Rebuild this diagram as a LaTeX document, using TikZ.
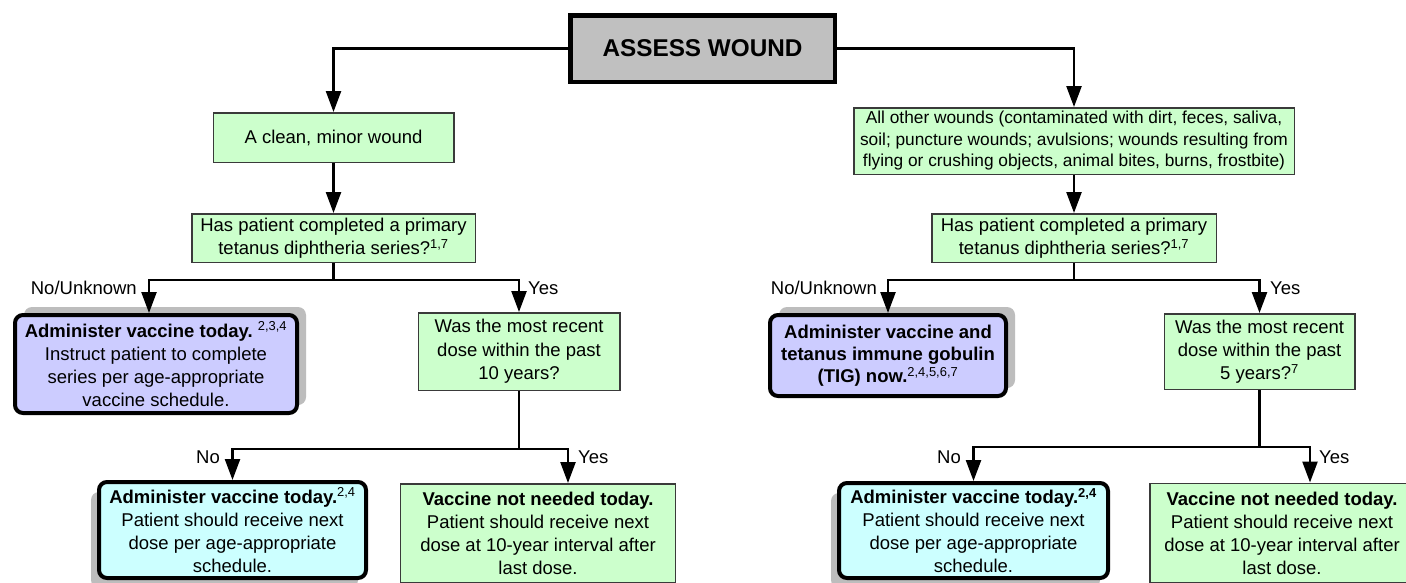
\documentclass[tikz,border=0pt]{standalone}
\usepackage{fontspec}
\setmainfont{Liberation Sans}
\usetikzlibrary{arrows.meta,shadows}
\definecolor{boxgreen}{HTML}{CCFFCC}
\definecolor{boxpurple}{HTML}{CCCCFF}
\definecolor{boxcyan}{HTML}{CCFFFF}
\definecolor{boxgrey}{HTML}{C0C0C0}
\definecolor{edgegrey}{HTML}{3A3A3A}
\definecolor{shadowgrey}{HTML}{BDBDBD}
\begin{document}
\begin{tikzpicture}[x=1pt,y=-1pt,
  every node/.style={font=\fontsize{18.5}{23}\selectfont, inner sep=0pt, align=center},
  assessbox/.style={draw=black, line width=4.5pt, fill=boxgrey},
  greenbox/.style={draw=edgegrey, line width=1.5pt, fill=boxgreen},
  purplebox/.style={draw=black, line width=4pt, rounded corners=8pt, fill=boxpurple,
    general shadow={fill=shadowgrey, shadow xshift=9pt, shadow yshift=8pt}},
  cyanbox/.style={draw=black, line width=4pt, rounded corners=8pt, fill=boxcyan,
    general shadow={fill=shadowgrey, shadow xshift=-8pt, shadow yshift=-10pt}},
  lbl/.style={font=\fontsize{18.5}{22}\selectfont},
  wire/.style={line width=2.4pt},
  conn/.style={line width=2.4pt, -{Triangle[length=21pt,width=15pt]}}
]
\useasboundingbox (0,0) rectangle (1406,582);
\clip (0,0) rectangle (1406,582);
\fill[white] (0,0) rectangle (1406,582);

% top
\node[assessbox, minimum width=264.5pt, minimum height=66.5pt] (assess) at (702.5,48.5)
  {\fontsize{24.3}{28}\selectfont\bfseries ASSESS WOUND};

% level 1
\node[greenbox, minimum width=240.5pt, minimum height=49.5pt] (clean) at (333.5,137.5)
  {A clean, minor wound};
\node[greenbox, minimum width=440.5pt, minimum height=66.5pt,
  font=\fontsize{17.3}{21.5}\selectfont] (other) at (1074,141)
  {All other wounds (contaminated with dirt, feces, saliva,\\soil; puncture wounds; avulsions; wounds resulting from\\flying or crushing objects, animal bites, burns, frostbite)};

% level 2
\node[greenbox, minimum width=283.5pt, minimum height=48.5pt] (hasL) at (333.5,238)
  {Has patient completed a primary\\tetanus diphtheria series?\textsuperscript{1,7}};
\node[greenbox, minimum width=284.5pt, minimum height=48.5pt] (hasR) at (1074,238)
  {Has patient completed a primary\\tetanus diphtheria series?\textsuperscript{1,7}};

% level 3
\node[purplebox, minimum width=282pt, minimum height=98pt] (admL) at (156,364)
  {\textbf{Administer vaccine today.}~\textsuperscript{2,3,4}\\Instruct patient to complete\\series per age-appropriate\\vaccine schedule.};
\node[greenbox, minimum width=201.5pt, minimum height=77.5pt, font=\fontsize{18.5}{23.5}\selectfont] (wasL) at (519,351.5)
  {Was the most recent\\dose within the past\\10 years?};
\node[purplebox, minimum width=236pt, minimum height=81pt, font=\fontsize{18.5}{22}\selectfont\bfseries] (admR) at (888,355.5)
  {Administer vaccine and\\tetanus immune gobulin\\(TIG) now.\textsuperscript{\mdseries 2,4,5,6,7}};
\node[greenbox, minimum width=190.5pt, minimum height=75.5pt, font=\fontsize{18.5}{23}\selectfont] (wasR) at (1259.5,351.5)
  {Was the most recent\\dose within the past\\5 years?\textsuperscript{7}};

% level 4
\node[cyanbox, minimum width=267pt, minimum height=96pt] (vacL) at (232.5,530)
  {\textbf{Administer vaccine today.}\textsuperscript{2,4}\\Patient should receive next\\dose per age-appropriate\\schedule.};
\node[greenbox, minimum width=275pt, minimum height=98.5pt] (notL) at (538,533)
  {\textbf{Vaccine not needed today.}\\Patient should receive next\\dose at 10-year interval after\\last dose.};
\node[cyanbox, minimum width=269pt, minimum height=95pt] (vacR) at (973.5,530.5)
  {\textbf{Administer vaccine today.\textsuperscript{2,4}}\\Patient should receive next\\dose per age-appropriate\\schedule.};
\node[greenbox, minimum width=264.5pt, minimum height=99.5pt] (notR) at (1282,533)
  {\textbf{Vaccine not needed today.}\\Patient should receive next\\dose at 10-year interval after\\last dose.};

% junction coordinates
\coordinate (jL) at (333.5,280);
\coordinate (jR) at (1074,280);
\coordinate (kL) at (519,449);
\coordinate (kR) at (1259.5,447);

% connectors
\draw[conn] (assess.west) -| (clean.north);
\draw[conn] (assess.east) -| (other.north);
\draw[conn] (clean.south) -- (hasL.north);
\draw[conn] (other.south) -- (hasR.north);

\draw[wire] (hasL.south) -- (jL);
\draw[conn] (jL) -| ([xshift=-7pt]admL.north);
\draw[conn] (jL) -| (wasL.north);
\draw[wire] (hasR.south) -- (jR);
\draw[conn] (jR) -| (admR.north);
\draw[conn] (jR) -| (wasR.north);

\draw[wire] (wasL.south) -- (kL);
\draw[conn] (kL) -| (vacL.north);
\draw[conn] (kL) -| ([xshift=30pt]notL.north);
\draw[wire] (wasR.south) -- (kR);
\draw[conn] (kR) -| (vacR.north);
\draw[conn] (kR) -| ([xshift=28pt]notR.north);

% labels
\node[lbl, anchor=east] (lab1) at (137,288) {No/Unknown};
\node[lbl, anchor=west] (lab2) at (528,288) {Yes};
\node[lbl, anchor=east] (lab3) at (877,288) {No/Unknown};
\node[lbl, anchor=west] (lab4) at (1270,288) {Yes};
\node[lbl, anchor=east] (lab5) at (220,457) {No};
\node[lbl, anchor=west] (lab6) at (578,457) {Yes};
\node[lbl, anchor=east] (lab7) at (961,457) {No};
\node[lbl, anchor=west] (lab8) at (1319,457) {Yes};
\end{tikzpicture}
\end{document}
